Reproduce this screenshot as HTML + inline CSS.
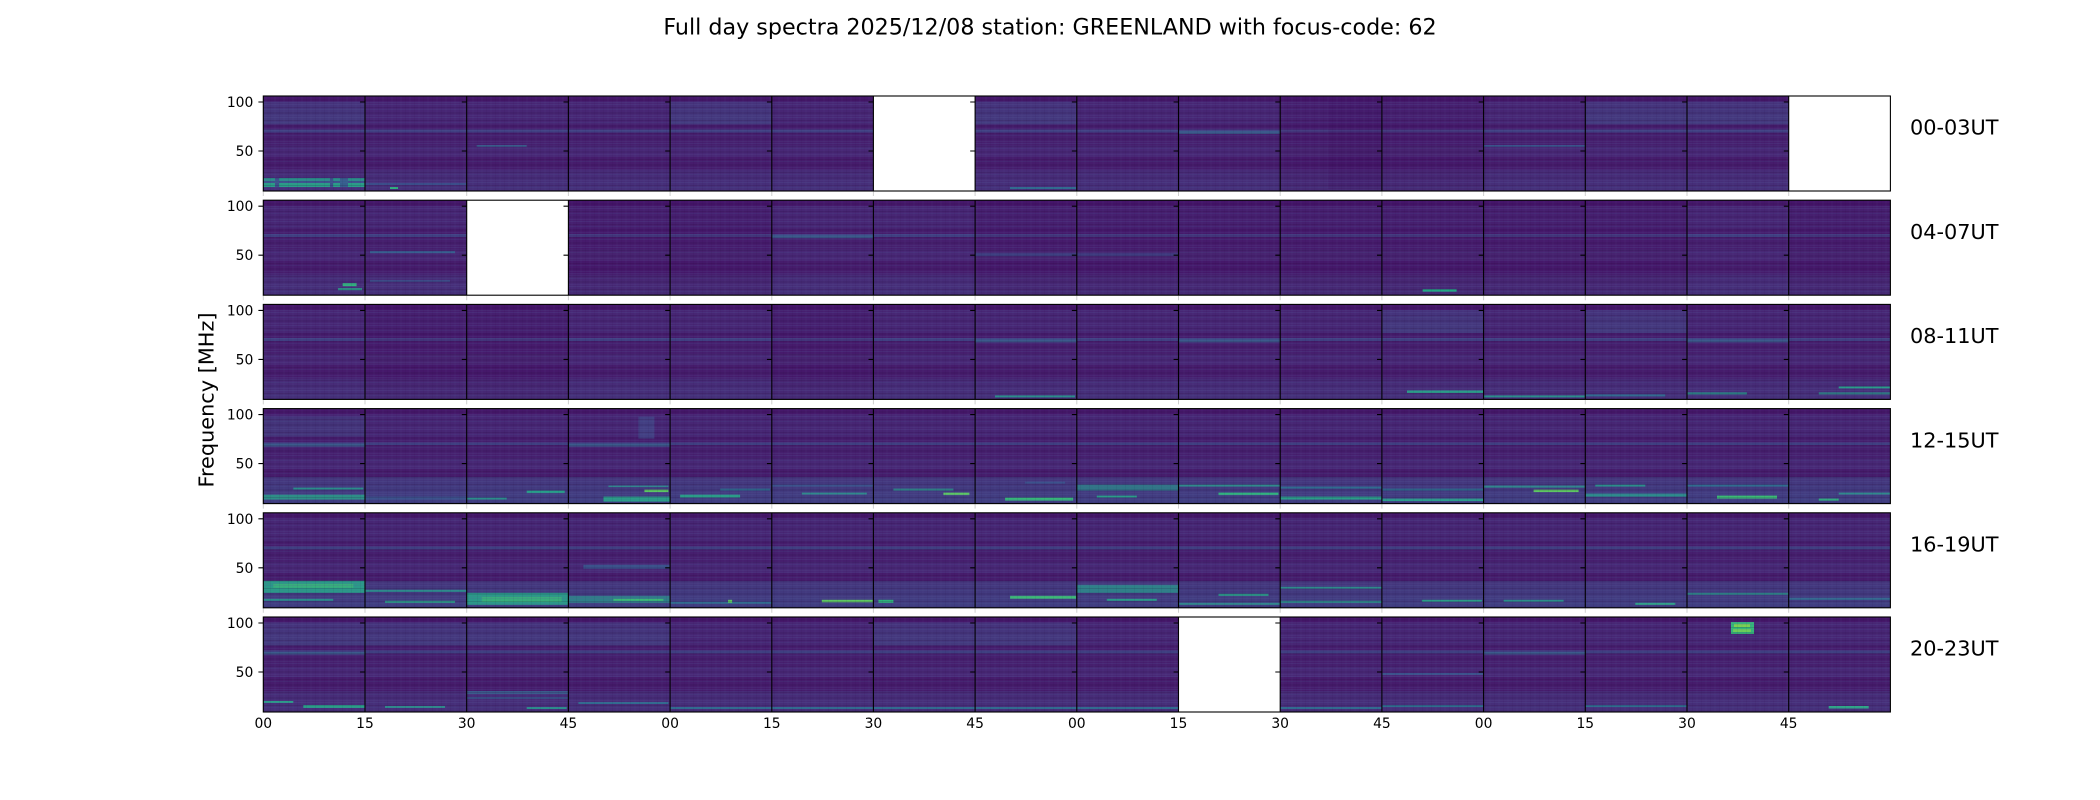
<!DOCTYPE html>
<html><head><meta charset="utf-8"><style>
html,body{margin:0;padding:0;background:#fff;}
body{width:2100px;height:800px;overflow:hidden;}
svg{display:block;font-family:"DejaVu Sans","Liberation Sans",sans-serif;}
</style></head><body>
<svg width="2100" height="800" viewBox="0 0 2100 800" xmlns="http://www.w3.org/2000/svg">
<defs>
<linearGradient id="gA" x1="0" y1="0" x2="0" y2="1">
<stop offset="0" stop-color="#46186b"/><stop offset=".06" stop-color="#46186b"/>
<stop offset=".06" stop-color="#472674"/><stop offset=".30" stop-color="#472674"/>
<stop offset=".30" stop-color="#461d6d"/><stop offset=".355" stop-color="#461d6d"/>
<stop offset=".355" stop-color="#3f3f81"/><stop offset=".385" stop-color="#3f3f81"/>
<stop offset=".385" stop-color="#461f6e"/><stop offset=".52" stop-color="#461f6e"/>
<stop offset=".52" stop-color="#482876"/><stop offset=".63" stop-color="#482876"/>
<stop offset=".63" stop-color="#461c6c"/><stop offset=".78" stop-color="#461c6c"/>
<stop offset=".78" stop-color="#472b77"/><stop offset="1" stop-color="#46307a"/>
</linearGradient>
<linearGradient id="gD" x1="0" y1="0" x2="0" y2="1">
<stop offset="0" stop-color="#45156a"/><stop offset=".06" stop-color="#45156a"/>
<stop offset=".06" stop-color="#461f6f"/><stop offset=".30" stop-color="#461f6f"/>
<stop offset=".30" stop-color="#45196b"/><stop offset=".355" stop-color="#45196b"/>
<stop offset=".355" stop-color="#413479"/><stop offset=".385" stop-color="#413479"/>
<stop offset=".385" stop-color="#461b6c"/><stop offset=".52" stop-color="#461b6c"/>
<stop offset=".52" stop-color="#472370"/><stop offset=".63" stop-color="#472370"/>
<stop offset=".63" stop-color="#45186a"/><stop offset=".78" stop-color="#45186a"/>
<stop offset=".78" stop-color="#472572"/><stop offset="1" stop-color="#462a75"/>
</linearGradient>
<linearGradient id="gE" x1="0" y1="0" x2="0" y2="1">
<stop offset="0" stop-color="#46186b"/><stop offset=".06" stop-color="#46186b"/>
<stop offset=".06" stop-color="#45327b"/><stop offset=".30" stop-color="#443a7e"/>
<stop offset=".30" stop-color="#461d6d"/><stop offset=".355" stop-color="#461d6d"/>
<stop offset=".355" stop-color="#3f3f81"/><stop offset=".385" stop-color="#3f3f81"/>
<stop offset=".385" stop-color="#461f6e"/><stop offset=".52" stop-color="#461f6e"/>
<stop offset=".52" stop-color="#482876"/><stop offset=".63" stop-color="#482876"/>
<stop offset=".63" stop-color="#461c6c"/><stop offset=".78" stop-color="#461c6c"/>
<stop offset=".78" stop-color="#472b77"/><stop offset="1" stop-color="#46307a"/>
</linearGradient>
<linearGradient id="gC" x1="0" y1="0" x2="0" y2="1">
<stop offset="0" stop-color="#46186b"/><stop offset=".06" stop-color="#46186b"/>
<stop offset=".06" stop-color="#472674"/><stop offset=".30" stop-color="#472674"/>
<stop offset=".30" stop-color="#461d6d"/><stop offset=".355" stop-color="#461d6d"/>
<stop offset=".355" stop-color="#3f3f81"/><stop offset=".385" stop-color="#3f3f81"/>
<stop offset=".385" stop-color="#461f6e"/><stop offset=".52" stop-color="#461f6e"/>
<stop offset=".52" stop-color="#482876"/><stop offset=".63" stop-color="#482876"/>
<stop offset=".63" stop-color="#461c6c"/><stop offset=".72" stop-color="#461c6c"/>
<stop offset=".72" stop-color="#44357c"/><stop offset="1" stop-color="#403f82"/>
</linearGradient>
<pattern id="tex" width="4" height="13" patternUnits="userSpaceOnUse">
<rect y="0" width="4" height="1" fill="#5a5fa0" opacity=".18"/>
<rect y="3" width="4" height="1" fill="#200030" opacity=".15"/>
<rect y="5" width="4" height="1" fill="#4a6fa0" opacity=".12"/>
<rect y="8" width="4" height="2" fill="#200030" opacity=".10"/>
<rect y="11" width="4" height="1" fill="#5a5fa0" opacity=".14"/>
</pattern>
<pattern id="vtex" width="9" height="4" patternUnits="userSpaceOnUse">
<rect x="0" width="1" height="4" fill="#1a0030" opacity=".06"/>
<rect x="4" width="2" height="4" fill="#5a5fa0" opacity=".05"/>
</pattern>
</defs>

<!-- Row 1 -->
<g>
<rect x="263.3" y="96" width="101.7" height="95" fill="url(#gE)"/>
<rect x="365" y="96" width="101.7" height="95" fill="url(#gA)"/>
<rect x="466.7" y="96" width="101.7" height="95" fill="url(#gA)"/>
<rect x="568.4" y="96" width="101.7" height="95" fill="url(#gA)"/>
<rect x="670.1" y="96" width="101.7" height="95" fill="url(#gE)"/>
<rect x="771.8" y="96" width="101.7" height="95" fill="url(#gA)"/>
<rect x="975.1" y="96" width="101.7" height="95" fill="url(#gE)"/>
<rect x="1076.8" y="96" width="101.7" height="95" fill="url(#gA)"/>
<rect x="1178.5" y="96" width="101.7" height="95" fill="url(#gA)"/>
<rect x="1280.2" y="96" width="101.7" height="95" fill="url(#gD)"/>
<rect x="1381.9" y="96" width="101.7" height="95" fill="url(#gD)"/>
<rect x="1483.6" y="96" width="101.7" height="95" fill="url(#gA)"/>
<rect x="1585.3" y="96" width="101.7" height="95" fill="url(#gE)"/>
<rect x="1687" y="96" width="101.7" height="95" fill="url(#gE)"/>
<rect x="263.3" y="178" width="101.7" height="3" fill="#2a8e8a"/>
<rect x="263.3" y="181" width="101.7" height="2" fill="#3b528b"/>
<rect x="263.3" y="183" width="101.7" height="4" fill="#2a9d88"/>
<rect x="275" y="178" width="4" height="9" fill="#3b528b"/>
<rect x="330" y="178" width="3" height="9" fill="#3b528b"/>
<rect x="340" y="178" width="8" height="9" fill="#355f8d"/>
<rect x="365" y="183" width="101.7" height="2" fill="#3b4d89"/>
<rect x="390" y="187" width="8" height="2" fill="#2fb47c"/>
<rect x="476.7" y="145" width="50" height="2" fill="#3b5a8b"/>
<rect x="1010" y="187" width="66" height="2" fill="#2f6c8e"/>
<rect x="1178.5" y="131" width="101.7" height="3" fill="#3b5a8b"/>
<rect x="1328" y="101" width="53" height="88" fill="#3f0a60" opacity=".18"/>
<rect x="1483.6" y="145" width="101.7" height="2" fill="#3b528b"/>
</g>

<!-- Row 2 -->
<g>
<rect x="263.3" y="200.2" width="101.7" height="95" fill="url(#gA)"/>
<rect x="365" y="200.2" width="101.7" height="95" fill="url(#gA)"/>
<rect x="568.4" y="200.2" width="101.7" height="95" fill="url(#gD)"/>
<rect x="670.1" y="200.2" width="101.7" height="95" fill="url(#gD)"/>
<rect x="771.8" y="200.2" width="101.7" height="95" fill="url(#gA)"/>
<rect x="873.4" y="200.2" width="101.7" height="95" fill="url(#gA)"/>
<rect x="975.1" y="200.2" width="101.7" height="95" fill="url(#gD)"/>
<rect x="1076.8" y="200.2" width="101.7" height="95" fill="url(#gD)"/>
<rect x="1178.5" y="200.2" width="101.7" height="95" fill="url(#gD)"/>
<rect x="1280.2" y="200.2" width="101.7" height="95" fill="url(#gD)"/>
<rect x="1381.9" y="200.2" width="101.7" height="95" fill="url(#gD)"/>
<rect x="1483.6" y="200.2" width="101.7" height="95" fill="url(#gD)"/>
<rect x="1585.3" y="200.2" width="101.7" height="95" fill="url(#gD)"/>
<rect x="1687" y="200.2" width="101.7" height="95" fill="url(#gA)"/>
<rect x="1788.7" y="200.2" width="101.7" height="95" fill="url(#gD)"/>
<rect x="342.6" y="283.2" width="14" height="3" fill="#2fb47c"/>
<rect x="338" y="288.2" width="24" height="2" fill="#2a9d88"/>
<rect x="370" y="251.2" width="85" height="2" fill="#355f8d"/>
<rect x="370" y="280.2" width="80" height="1.5" fill="#3b528b"/>
<rect x="771.8" y="235.2" width="101.7" height="3" fill="#3b5a8b"/>
<rect x="975.1" y="253.2" width="101.7" height="3" fill="#3b4d89" opacity=".7"/>
<rect x="1076.8" y="253.2" width="101.7" height="3" fill="#3b4d89" opacity=".6"/>
<rect x="1422.6" y="289.2" width="34" height="2.5" fill="#22a884"/>
</g>

<!-- Row 3 -->
<g>
<rect x="263.3" y="304.4" width="101.7" height="95" fill="url(#gA)"/>
<rect x="365" y="304.4" width="101.7" height="95" fill="url(#gD)"/>
<rect x="466.7" y="304.4" width="101.7" height="95" fill="url(#gD)"/>
<rect x="568.4" y="304.4" width="101.7" height="95" fill="url(#gA)"/>
<rect x="670.1" y="304.4" width="101.7" height="95" fill="url(#gA)"/>
<rect x="771.8" y="304.4" width="101.7" height="95" fill="url(#gD)"/>
<rect x="873.4" y="304.4" width="101.7" height="95" fill="url(#gA)"/>
<rect x="975.1" y="304.4" width="101.7" height="95" fill="url(#gA)"/>
<rect x="1076.8" y="304.4" width="101.7" height="95" fill="url(#gA)"/>
<rect x="1178.5" y="304.4" width="101.7" height="95" fill="url(#gA)"/>
<rect x="1280.2" y="304.4" width="101.7" height="95" fill="url(#gA)"/>
<rect x="1381.9" y="304.4" width="101.7" height="95" fill="url(#gE)"/>
<rect x="1483.6" y="304.4" width="101.7" height="95" fill="url(#gA)"/>
<rect x="1585.3" y="304.4" width="101.7" height="95" fill="url(#gE)"/>
<rect x="1687" y="304.4" width="101.7" height="95" fill="url(#gA)"/>
<rect x="1788.7" y="304.4" width="101.7" height="95" fill="url(#gA)"/>
<rect x="975.1" y="339.4" width="101.7" height="3" fill="#3b5a8b"/>
<rect x="1178.5" y="339.4" width="101.7" height="3" fill="#3b5a8b"/>
<rect x="1687" y="339.4" width="101.7" height="3" fill="#3b5a8b"/>
<rect x="995" y="395.4" width="80" height="2" fill="#2a8e8a"/>
<rect x="1407" y="390.4" width="76" height="2.5" fill="#2a9d88"/>
<rect x="1483.6" y="395.4" width="101.7" height="2" fill="#2a8e8a"/>
<rect x="1585.3" y="394.4" width="80" height="2" fill="#2f6c8e"/>
<rect x="1687" y="392.4" width="60" height="2" fill="#2a8e8a"/>
<rect x="1838.7" y="386.4" width="51.7" height="2" fill="#2a9d8a"/>
<rect x="1818.7" y="392.4" width="71.7" height="2" fill="#2f8a8b"/>
</g>

<!-- Row 4 -->
<g>
<rect x="263.3" y="408.6" width="1627.1" height="95" fill="url(#gC)"/>
<rect x="263.3" y="416.6" width="101.7" height="20" fill="#433a7e" opacity=".7"/>
<rect x="263.3" y="443.6" width="101.7" height="3" fill="#3b5a8b"/>
<rect x="568.4" y="443.6" width="101.7" height="3" fill="#3b5a8b"/>
<rect x="293.3" y="487.6" width="70" height="2" fill="#2a8e8a"/>
<rect x="263.3" y="494.6" width="101.7" height="5" fill="#2a9d88" opacity=".85"/>
<rect x="365" y="496.6" width="101.7" height="3" fill="#3b528b"/>
<rect x="526.7" y="490.6" width="38" height="2.5" fill="#25a088"/>
<rect x="466.7" y="497.6" width="40" height="2" fill="#2a8e8a"/>
<rect x="644.4" y="489.6" width="24" height="2.5" fill="#5cc863"/>
<rect x="603.4" y="496.6" width="66.7" height="5" fill="#2a9d88"/>
<rect x="608.4" y="485.6" width="60" height="1.5" fill="#2f8a8b"/>
<rect x="638.4" y="416.6" width="16" height="22" fill="#433f83"/>
<rect x="680.1" y="494.6" width="60" height="3" fill="#2a9d88"/>
<rect x="720.1" y="488.6" width="50" height="2" fill="#2f6c8e"/>
<rect x="801.8" y="492.6" width="65" height="2" fill="#2f8a8b"/>
<rect x="771.8" y="484.6" width="101.7" height="2" fill="#3b528b"/>
<rect x="943.4" y="492.6" width="26" height="2.5" fill="#5cc863"/>
<rect x="893.4" y="488.6" width="60" height="2" fill="#2f8a8b"/>
<rect x="1005.1" y="497.6" width="68" height="3" fill="#35b779"/>
<rect x="1025.1" y="481.6" width="40" height="2" fill="#3b528b"/>
<rect x="1076.8" y="484.6" width="101.7" height="6" fill="#2a8e8a" opacity=".7"/>
<rect x="1096.8" y="495.6" width="40" height="2" fill="#2a9d88"/>
<rect x="1218.5" y="492.6" width="60" height="2.5" fill="#2fb47c"/>
<rect x="1178.5" y="484.6" width="101.7" height="2" fill="#2f8a8b"/>
<rect x="1280.2" y="496.6" width="101.7" height="3" fill="#2a9d88"/>
<rect x="1280.2" y="486.6" width="101.7" height="2" fill="#2f6c8e"/>
<rect x="1381.9" y="498.6" width="101.7" height="2.5" fill="#2a9d8a"/>
<rect x="1381.9" y="488.6" width="101.7" height="2" fill="#2f6c8e"/>
<rect x="1533.6" y="489.6" width="45" height="2.5" fill="#5ec962"/>
<rect x="1483.6" y="485.6" width="101.7" height="2" fill="#2f8a8b"/>
<rect x="1585.3" y="493.6" width="101.7" height="3" fill="#2a8e8a"/>
<rect x="1595.3" y="484.6" width="50" height="2" fill="#2a8e8a"/>
<rect x="1717" y="495.6" width="60" height="3" fill="#3bbb75"/>
<rect x="1687" y="484.6" width="101.7" height="2" fill="#2f6c8e"/>
<rect x="1838.7" y="492.6" width="51.7" height="2" fill="#2f8a8b"/>
<rect x="1818.7" y="498.6" width="20" height="2" fill="#2fb47c"/>
</g>

<!-- Row 5 -->
<g>
<rect x="263.3" y="512.8" width="1627.1" height="95" fill="url(#gC)"/>
<rect x="263.3" y="580.8" width="101.7" height="12" fill="#2a9a88"/>
<rect x="273.3" y="583.8" width="80" height="4" fill="#3bb478" opacity=".8"/>
<rect x="263.3" y="598.8" width="70" height="2" fill="#2a8e8a"/>
<rect x="365" y="589.8" width="101.7" height="2" fill="#2a8e8a"/>
<rect x="385" y="600.8" width="70" height="2" fill="#2a9d88"/>
<rect x="466.7" y="592.8" width="101.7" height="12" fill="#2a9a88"/>
<rect x="481.7" y="596.8" width="80" height="5" fill="#3bb478" opacity=".8"/>
<rect x="583.4" y="564.8" width="86" height="4" fill="#3b528b"/>
<rect x="568.4" y="595.8" width="101.7" height="7" fill="#2a8e8a" opacity=".8"/>
<rect x="613.4" y="598.8" width="50" height="2" fill="#3bbb75"/>
<rect x="670.1" y="601.8" width="101.7" height="2" fill="#2f6c8e"/>
<rect x="728.1" y="599.8" width="4" height="3" fill="#5ec962"/>
<rect x="821.8" y="599.8" width="51" height="2.5" fill="#5ec962"/>
<rect x="878.4" y="599.8" width="15" height="3" fill="#2fb47c"/>
<rect x="1010.1" y="595.8" width="66" height="3" fill="#3bbb75"/>
<rect x="1076.8" y="584.8" width="101.7" height="8" fill="#2a8e8a" opacity=".85"/>
<rect x="1106.8" y="598.8" width="50" height="2" fill="#2a9d88"/>
<rect x="1218.5" y="593.8" width="50" height="2" fill="#2a9d88"/>
<rect x="1178.5" y="602.8" width="101.7" height="2" fill="#2f8a8b"/>
<rect x="1280.2" y="586.8" width="101.7" height="2" fill="#2f8a8b"/>
<rect x="1280.2" y="600.8" width="101.7" height="2" fill="#2a8e8a"/>
<rect x="1421.9" y="599.8" width="60" height="2" fill="#2a9d88"/>
<rect x="1503.6" y="599.8" width="60" height="2" fill="#2a8e8a"/>
<rect x="1635.3" y="602.8" width="40" height="2" fill="#2fa888"/>
<rect x="1687" y="592.8" width="101.7" height="2" fill="#2f8a8b"/>
<rect x="1788.7" y="597.8" width="101.7" height="2" fill="#2f6c8e"/>
</g>

<!-- Row 6 -->
<g>
<rect x="263.3" y="617" width="101.7" height="95" fill="url(#gE)"/>
<rect x="365" y="617" width="101.7" height="95" fill="url(#gE)"/>
<rect x="466.7" y="617" width="101.7" height="95" fill="url(#gE)"/>
<rect x="568.4" y="617" width="101.7" height="95" fill="url(#gE)"/>
<rect x="670.1" y="617" width="101.7" height="95" fill="url(#gA)"/>
<rect x="771.8" y="617" width="101.7" height="95" fill="url(#gA)"/>
<rect x="873.4" y="617" width="101.7" height="95" fill="url(#gE)"/>
<rect x="975.1" y="617" width="101.7" height="95" fill="url(#gE)"/>
<rect x="1076.8" y="617" width="101.7" height="95" fill="url(#gA)"/>
<rect x="1280.2" y="617" width="101.7" height="95" fill="url(#gA)"/>
<rect x="1381.9" y="617" width="101.7" height="95" fill="url(#gA)"/>
<rect x="1483.6" y="617" width="101.7" height="95" fill="url(#gA)"/>
<rect x="1585.3" y="617" width="101.7" height="95" fill="url(#gA)"/>
<rect x="1687" y="617" width="101.7" height="95" fill="url(#gA)"/>
<rect x="1788.7" y="617" width="101.7" height="95" fill="url(#gA)"/>
<rect x="263.3" y="652" width="101.7" height="2.5" fill="#3b5a8b"/>
<rect x="263.3" y="701" width="30" height="2" fill="#2a9d88"/>
<rect x="303.3" y="705" width="61.7" height="3" fill="#2a9d88"/>
<rect x="385" y="706" width="60" height="2" fill="#2f8a8b"/>
<rect x="466.7" y="691" width="101.7" height="3" fill="#3b5a8b"/>
<rect x="466.7" y="697" width="101.7" height="2" fill="#3b528b"/>
<rect x="526.7" y="707" width="40" height="2" fill="#2a8e8a"/>
<rect x="578.4" y="702" width="90" height="2" fill="#2f6c8e"/>
<rect x="670.1" y="707" width="508.4" height="2" fill="#2f6c8e"/>
<rect x="1280.2" y="707" width="101.7" height="2" fill="#2f6c8e"/>
<rect x="1381.9" y="673" width="101.7" height="2" fill="#3b528b"/>
<rect x="1381.9" y="705" width="101.7" height="2" fill="#2f6c8e"/>
<rect x="1483.6" y="652" width="101.7" height="2.5" fill="#3b5a8b"/>
<rect x="1585.3" y="705" width="101.7" height="2" fill="#2f6c8e"/>
<rect x="1731" y="622" width="23" height="12" fill="#35b779"/>
<rect x="1734" y="624" width="16" height="3" fill="#7ad151"/>
<rect x="1733" y="629" width="18" height="3" fill="#6ccd5a"/>
<rect x="1828.7" y="706" width="40" height="2.5" fill="#2fa888"/>
</g>

<!-- texture overlays -->
<g>
<rect x="263.3" y="96" width="1627.1" height="95" fill="url(#tex)"/>
<rect x="263.3" y="200.2" width="1627.1" height="95" fill="url(#tex)"/>
<rect x="263.3" y="304.4" width="1627.1" height="95" fill="url(#tex)"/>
<rect x="263.3" y="408.6" width="1627.1" height="95" fill="url(#tex)"/>
<rect x="263.3" y="512.8" width="1627.1" height="95" fill="url(#tex)"/>
<rect x="263.3" y="617" width="1627.1" height="95" fill="url(#tex)"/>
<rect x="263.3" y="96" width="1627.1" height="95" fill="url(#vtex)"/>
<rect x="263.3" y="200.2" width="1627.1" height="95" fill="url(#vtex)"/>
<rect x="263.3" y="304.4" width="1627.1" height="95" fill="url(#vtex)"/>
<rect x="263.3" y="408.6" width="1627.1" height="95" fill="url(#vtex)"/>
<rect x="263.3" y="512.8" width="1627.1" height="95" fill="url(#vtex)"/>
<rect x="263.3" y="617" width="1627.1" height="95" fill="url(#vtex)"/>
</g>

<!-- white (missing) panels -->
<g fill="#fff">
<rect x="873.4" y="96" width="101.7" height="95"/>
<rect x="1788.7" y="96" width="101.7" height="95"/>
<rect x="466.7" y="200.2" width="101.7" height="95"/>
<rect x="1178.5" y="617" width="101.7" height="95"/>
</g>

<!-- light x-tick marks between rows -->
<g stroke="#d0d0d0" stroke-width="1">
<path d="M263.3 191v5M365 191v5M466.7 191v5M568.4 191v5M670.1 191v5M771.8 191v5M873.4 191v5M975.1 191v5M1076.8 191v5M1178.5 191v5M1280.2 191v5M1381.9 191v5M1483.6 191v5M1585.3 191v5M1687 191v5M1788.7 191v5"/>
<path d="M263.3 295.2v5M365 295.2v5M466.7 295.2v5M568.4 295.2v5M670.1 295.2v5M771.8 295.2v5M873.4 295.2v5M975.1 295.2v5M1076.8 295.2v5M1178.5 295.2v5M1280.2 295.2v5M1381.9 295.2v5M1483.6 295.2v5M1585.3 295.2v5M1687 295.2v5M1788.7 295.2v5"/>
<path d="M263.3 399.4v5M365 399.4v5M466.7 399.4v5M568.4 399.4v5M670.1 399.4v5M771.8 399.4v5M873.4 399.4v5M975.1 399.4v5M1076.8 399.4v5M1178.5 399.4v5M1280.2 399.4v5M1381.9 399.4v5M1483.6 399.4v5M1585.3 399.4v5M1687 399.4v5M1788.7 399.4v5"/>
<path d="M263.3 503.6v5M365 503.6v5M466.7 503.6v5M568.4 503.6v5M670.1 503.6v5M771.8 503.6v5M873.4 503.6v5M975.1 503.6v5M1076.8 503.6v5M1178.5 503.6v5M1280.2 503.6v5M1381.9 503.6v5M1483.6 503.6v5M1585.3 503.6v5M1687 503.6v5M1788.7 503.6v5"/>
<path d="M263.3 607.8v5M365 607.8v5M466.7 607.8v5M568.4 607.8v5M670.1 607.8v5M771.8 607.8v5M873.4 607.8v5M975.1 607.8v5M1076.8 607.8v5M1178.5 607.8v5M1280.2 607.8v5M1381.9 607.8v5M1483.6 607.8v5M1585.3 607.8v5M1687 607.8v5M1788.7 607.8v5"/>
</g>

<!-- frames -->
<g fill="none" stroke="#000" stroke-width="1.1">
<rect x="263.3" y="96" width="1627.1" height="95"/>
<rect x="263.3" y="200.2" width="1627.1" height="95"/>
<rect x="263.3" y="304.4" width="1627.1" height="95"/>
<rect x="263.3" y="408.6" width="1627.1" height="95"/>
<rect x="263.3" y="512.8" width="1627.1" height="95"/>
<rect x="263.3" y="617" width="1627.1" height="95"/>
<path d="M365 96v95M466.7 96v95M568.4 96v95M670.1 96v95M771.8 96v95M873.4 96v95M975.1 96v95M1076.8 96v95M1178.5 96v95M1280.2 96v95M1381.9 96v95M1483.6 96v95M1585.3 96v95M1687 96v95M1788.7 96v95"/>
<path d="M365 200.2v95M466.7 200.2v95M568.4 200.2v95M670.1 200.2v95M771.8 200.2v95M873.4 200.2v95M975.1 200.2v95M1076.8 200.2v95M1178.5 200.2v95M1280.2 200.2v95M1381.9 200.2v95M1483.6 200.2v95M1585.3 200.2v95M1687 200.2v95M1788.7 200.2v95"/>
<path d="M365 304.4v95M466.7 304.4v95M568.4 304.4v95M670.1 304.4v95M771.8 304.4v95M873.4 304.4v95M975.1 304.4v95M1076.8 304.4v95M1178.5 304.4v95M1280.2 304.4v95M1381.9 304.4v95M1483.6 304.4v95M1585.3 304.4v95M1687 304.4v95M1788.7 304.4v95"/>
<path d="M365 408.6v95M466.7 408.6v95M568.4 408.6v95M670.1 408.6v95M771.8 408.6v95M873.4 408.6v95M975.1 408.6v95M1076.8 408.6v95M1178.5 408.6v95M1280.2 408.6v95M1381.9 408.6v95M1483.6 408.6v95M1585.3 408.6v95M1687 408.6v95M1788.7 408.6v95"/>
<path d="M365 512.8v95M466.7 512.8v95M568.4 512.8v95M670.1 512.8v95M771.8 512.8v95M873.4 512.8v95M975.1 512.8v95M1076.8 512.8v95M1178.5 512.8v95M1280.2 512.8v95M1381.9 512.8v95M1483.6 512.8v95M1585.3 512.8v95M1687 512.8v95M1788.7 512.8v95"/>
<path d="M365 617v95M466.7 617v95M568.4 617v95M670.1 617v95M771.8 617v95M873.4 617v95M975.1 617v95M1076.8 617v95M1178.5 617v95M1280.2 617v95M1381.9 617v95M1483.6 617v95M1585.3 617v95M1687 617v95M1788.7 617v95"/>
</g>

<!-- y ticks (outward, left of every panel) -->
<g stroke="#000" stroke-width="1.1">
<path d="M258.4 102h4.9M360.1 102h4.9M461.8 102h4.9M563.5 102h4.9M665.2 102h4.9M766.9 102h4.9M868.5 102h4.9M970.2 102h4.9M1071.9 102h4.9M1173.6 102h4.9M1275.3 102h4.9M1377 102h4.9M1478.7 102h4.9M1580.4 102h4.9M1682.1 102h4.9M1783.8 102h4.9"/>
<path d="M258.4 151h4.9M360.1 151h4.9M461.8 151h4.9M563.5 151h4.9M665.2 151h4.9M766.9 151h4.9M868.5 151h4.9M970.2 151h4.9M1071.9 151h4.9M1173.6 151h4.9M1275.3 151h4.9M1377 151h4.9M1478.7 151h4.9M1580.4 151h4.9M1682.1 151h4.9M1783.8 151h4.9"/>
<path d="M258.4 206.2h4.9M360.1 206.2h4.9M461.8 206.2h4.9M563.5 206.2h4.9M665.2 206.2h4.9M766.9 206.2h4.9M868.5 206.2h4.9M970.2 206.2h4.9M1071.9 206.2h4.9M1173.6 206.2h4.9M1275.3 206.2h4.9M1377 206.2h4.9M1478.7 206.2h4.9M1580.4 206.2h4.9M1682.1 206.2h4.9M1783.8 206.2h4.9"/>
<path d="M258.4 255.2h4.9M360.1 255.2h4.9M461.8 255.2h4.9M563.5 255.2h4.9M665.2 255.2h4.9M766.9 255.2h4.9M868.5 255.2h4.9M970.2 255.2h4.9M1071.9 255.2h4.9M1173.6 255.2h4.9M1275.3 255.2h4.9M1377 255.2h4.9M1478.7 255.2h4.9M1580.4 255.2h4.9M1682.1 255.2h4.9M1783.8 255.2h4.9"/>
<path d="M258.4 310.4h4.9M360.1 310.4h4.9M461.8 310.4h4.9M563.5 310.4h4.9M665.2 310.4h4.9M766.9 310.4h4.9M868.5 310.4h4.9M970.2 310.4h4.9M1071.9 310.4h4.9M1173.6 310.4h4.9M1275.3 310.4h4.9M1377 310.4h4.9M1478.7 310.4h4.9M1580.4 310.4h4.9M1682.1 310.4h4.9M1783.8 310.4h4.9"/>
<path d="M258.4 359.4h4.9M360.1 359.4h4.9M461.8 359.4h4.9M563.5 359.4h4.9M665.2 359.4h4.9M766.9 359.4h4.9M868.5 359.4h4.9M970.2 359.4h4.9M1071.9 359.4h4.9M1173.6 359.4h4.9M1275.3 359.4h4.9M1377 359.4h4.9M1478.7 359.4h4.9M1580.4 359.4h4.9M1682.1 359.4h4.9M1783.8 359.4h4.9"/>
<path d="M258.4 414.6h4.9M360.1 414.6h4.9M461.8 414.6h4.9M563.5 414.6h4.9M665.2 414.6h4.9M766.9 414.6h4.9M868.5 414.6h4.9M970.2 414.6h4.9M1071.9 414.6h4.9M1173.6 414.6h4.9M1275.3 414.6h4.9M1377 414.6h4.9M1478.7 414.6h4.9M1580.4 414.6h4.9M1682.1 414.6h4.9M1783.8 414.6h4.9"/>
<path d="M258.4 463.6h4.9M360.1 463.6h4.9M461.8 463.6h4.9M563.5 463.6h4.9M665.2 463.6h4.9M766.9 463.6h4.9M868.5 463.6h4.9M970.2 463.6h4.9M1071.9 463.6h4.9M1173.6 463.6h4.9M1275.3 463.6h4.9M1377 463.6h4.9M1478.7 463.6h4.9M1580.4 463.6h4.9M1682.1 463.6h4.9M1783.8 463.6h4.9"/>
<path d="M258.4 518.8h4.9M360.1 518.8h4.9M461.8 518.8h4.9M563.5 518.8h4.9M665.2 518.8h4.9M766.9 518.8h4.9M868.5 518.8h4.9M970.2 518.8h4.9M1071.9 518.8h4.9M1173.6 518.8h4.9M1275.3 518.8h4.9M1377 518.8h4.9M1478.7 518.8h4.9M1580.4 518.8h4.9M1682.1 518.8h4.9M1783.8 518.8h4.9"/>
<path d="M258.4 567.8h4.9M360.1 567.8h4.9M461.8 567.8h4.9M563.5 567.8h4.9M665.2 567.8h4.9M766.9 567.8h4.9M868.5 567.8h4.9M970.2 567.8h4.9M1071.9 567.8h4.9M1173.6 567.8h4.9M1275.3 567.8h4.9M1377 567.8h4.9M1478.7 567.8h4.9M1580.4 567.8h4.9M1682.1 567.8h4.9M1783.8 567.8h4.9"/>
<path d="M258.4 623h4.9M360.1 623h4.9M461.8 623h4.9M563.5 623h4.9M665.2 623h4.9M766.9 623h4.9M868.5 623h4.9M970.2 623h4.9M1071.9 623h4.9M1173.6 623h4.9M1275.3 623h4.9M1377 623h4.9M1478.7 623h4.9M1580.4 623h4.9M1682.1 623h4.9M1783.8 623h4.9"/>
<path d="M258.4 672h4.9M360.1 672h4.9M461.8 672h4.9M563.5 672h4.9M665.2 672h4.9M766.9 672h4.9M868.5 672h4.9M970.2 672h4.9M1071.9 672h4.9M1173.6 672h4.9M1275.3 672h4.9M1377 672h4.9M1478.7 672h4.9M1580.4 672h4.9M1682.1 672h4.9M1783.8 672h4.9"/>
</g>

<!-- text -->
<g fill="#000">
<text x="1050" y="34.3" text-anchor="middle" font-size="22.22">Full day spectra 2025/12/08 station: GREENLAND with focus-code: 62</text>
<text transform="translate(213.5,400) rotate(-90)" text-anchor="middle" font-size="20.83">Frequency [MHz]</text>
<g font-size="20.83">
<text x="1910" y="134.7">00-03UT</text>
<text x="1910" y="238.9">04-07UT</text>
<text x="1910" y="343.1">08-11UT</text>
<text x="1910" y="447.3">12-15UT</text>
<text x="1910" y="551.5">16-19UT</text>
<text x="1910" y="655.7">20-23UT</text>
</g>
<g font-size="13.89" text-anchor="end">
<text x="253.3" y="107">100</text><text x="253.3" y="156">50</text>
<text x="253.3" y="211.2">100</text><text x="253.3" y="260.2">50</text>
<text x="253.3" y="315.4">100</text><text x="253.3" y="364.4">50</text>
<text x="253.3" y="419.6">100</text><text x="253.3" y="468.6">50</text>
<text x="253.3" y="523.8">100</text><text x="253.3" y="572.8">50</text>
<text x="253.3" y="628">100</text><text x="253.3" y="677">50</text>
</g>
<g font-size="13.89" text-anchor="middle">
<text x="263.3" y="728">00</text><text x="365" y="728">15</text><text x="466.7" y="728">30</text><text x="568.4" y="728">45</text>
<text x="670.1" y="728">00</text><text x="771.8" y="728">15</text><text x="873.4" y="728">30</text><text x="975.1" y="728">45</text>
<text x="1076.8" y="728">00</text><text x="1178.5" y="728">15</text><text x="1280.2" y="728">30</text><text x="1381.9" y="728">45</text>
<text x="1483.6" y="728">00</text><text x="1585.3" y="728">15</text><text x="1687" y="728">30</text><text x="1788.7" y="728">45</text>
</g>
</g>
</svg>
</body></html>
